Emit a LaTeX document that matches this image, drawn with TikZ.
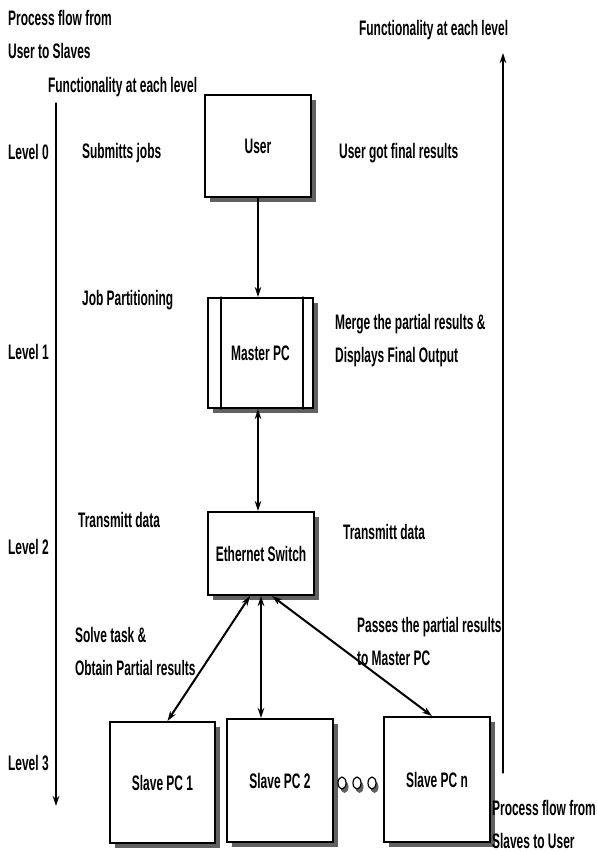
\documentclass[tikz,border=0pt]{standalone}
\usepackage{fontspec}
\setmainfont{Liberation Sans}
\usetikzlibrary{arrows.meta}
\colorlet{shadowgray}{black!62}

\tikzset{
  txt/.style={font=\fontsize{21}{33}\selectfont\bfseries, anchor=west, inner sep=0pt,
    xscale=0.57, transform shape, align=left},
  pcbox/.style={draw, line width=2pt, fill=white, inner sep=0pt,
    minimum width=106pt, font=\fontsize{21}{23}\selectfont\bfseries},
  link/.style={line width=1.2pt},
  biglink/.style={line width=2pt}
}
\newcommand{\nar}[1]{\scalebox{0.57}[1]{#1}}

\begin{document}
\begin{tikzpicture}[x=1pt, y=-1pt, >={Stealth[length=10pt,width=6.5pt]}, line cap=round]
\useasboundingbox (0,0) rectangle (597,852);
% ---------- left column ----------
\node[txt] (lhead) at (8,34) {Process flow from\\User to Slaves};
\node[txt] (lfunc) at (48,87) {Functionality at each level};
\coordinate (ltop) at (56,103);
\coordinate (lbot) at (56,806);
\draw[link, ->] (ltop) -- (lbot);
\node[txt] (lv0) at (8,152) {Level 0};
\node[txt] (lv1) at (8,352) {Level 1};
\node[txt] (lv2) at (8,547) {Level 2};
\node[txt] (lv3) at (8,763) {Level 3};
\node[txt] (fsubmit) at (82,153) {Submitts jobs};
\node[txt] (fpart) at (82,300) {Job Partitioning};
\node[txt] (ftransl) at (78,520) {Transmitt data};
\node[txt] (fsolve) at (75,651) {Solve task \&\\Obtain Partial results};
% ---------- box shadows ----------
\fill[shadowgray] (210,100) rectangle (316,202);
\fill[shadowgray] (213,303) rectangle (318,413);
\fill[shadowgray] (213,517) rectangle (319,600);
\fill[shadowgray] (115,727) rectangle (220,848);
\fill[shadowgray] (232,724) rectangle (338,847);
\fill[shadowgray] (389,722) rectangle (495,847);
% ---------- boxes ----------
\node[pcbox, minimum height=102pt] (user) at (258,146) {\nar{User}};
\node[pcbox, minimum height=110pt, minimum width=105pt] (master) at (260.5,353) {\nar{Master PC}};
\draw[line width=1.2pt] ([xshift=14pt]master.north west) -- ([xshift=14pt]master.south west);
\draw[line width=1.2pt] ([xshift=-11pt]master.north east) -- ([xshift=-11pt]master.south east);
\node[pcbox, minimum height=83pt] (switch) at (261,553.5) {\nar{Ethernet Switch}};
\node[pcbox, minimum height=121pt, minimum width=105pt] (slave1) at (162.5,782.5) {\nar{Slave PC 1}};
\node[pcbox, minimum height=123pt] (slave2) at (280,780.5) {\nar{Slave PC 2}};
\node[pcbox, minimum height=125pt] (slaven) at (437,779.5) {\nar{Slave PC n}};
% dots between slaves
\foreach \dx in {342,357,372}{
  \fill[shadowgray] (\dx+2.5,787) ellipse (4pt and 6pt);
  \draw[line width=1.2pt, fill=white] (\dx,783) ellipse (4pt and 6pt);
}
% ---------- connectors ----------
\draw[link, ->] ([xshift=-2.5pt]master.north |- user.south) -- ([xshift=-2.5pt]master.north);
\draw[link, <->] ([xshift=-2.5pt]master.south) -- ([xshift=-2.5pt]master.south |- switch.north);
\draw[biglink, <->] ([xshift=-11pt]switch.south) -- ([xshift=5pt]slave1.north);
\draw[link, <->] (switch.south) -- (switch.south |- slave2.north);
\draw[biglink, <->] ([xshift=11pt]switch.south) -- ([xshift=-5pt]slaven.north);
% ---------- right column ----------
\node[txt] (rfunc) at (359,30) {Functionality at each level};
\coordinate (rbot) at (503,773);
\coordinate (rtop) at (503,53);
\draw[link, ->] (rbot) -- (rtop);
\node[txt] (fresult) at (339,153) {User got final results};
\node[txt] (fmerge) at (335,341) {Merge the partial results \&\\Displays Final Output};
\node[txt] (ftransr) at (343,532) {Transmitt data};
\node[txt] (fpass) at (357,641) {Passes the partial results\\to Master PC};
\node[txt] (rhead) at (492,824) {Process flow from\\Slaves to User};
\end{tikzpicture}
\end{document}
